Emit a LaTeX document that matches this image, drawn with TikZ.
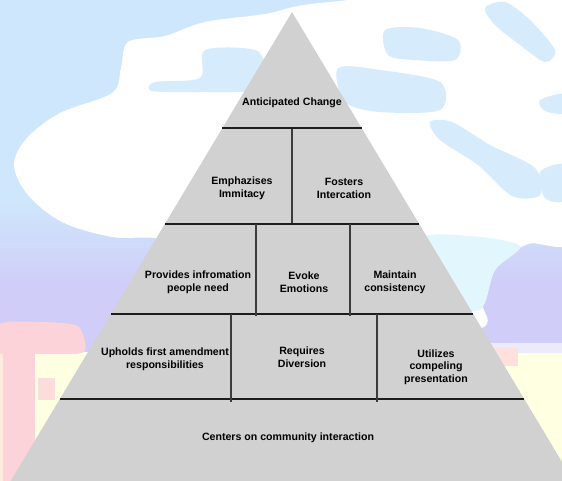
\documentclass[tikz,border=0pt]{standalone}
\usepackage{fontspec}
\setmainfont{Liberation Sans}
\usetikzlibrary{calc}
\definecolor{bgblue}{RGB}{207,231,252}
\definecolor{blot}{RGB}{214,236,252}
\definecolor{cyanlt}{RGB}{226,247,253}
\definecolor{lav}{RGB}{208,205,249}
\definecolor{pinkbg}{RGB}{253,211,218}
\definecolor{yellowbg}{RGB}{255,255,226}
\definecolor{pyr}{RGB}{209,209,209}
\definecolor{hl}{RGB}{28,28,28}
\definecolor{vl}{RGB}{60,60,60}
\begin{document}
\begin{tikzpicture}[x=1pt,y=-1pt,
  lbl/.style={font=\fontsize{10.6}{12.7}\selectfont\bfseries, align=center, inner sep=0pt, text=black},
  hline/.style={draw=hl, line width=1.3pt},
  vline/.style={draw=vl, line width=1.4pt}]
\useasboundingbox (0,0) rectangle (562,481);
\clip (0,0) rectangle (562,481);
% ---------- background ----------
\fill[bgblue] (0,0) rectangle (562,200);
\shade[top color=bgblue, bottom color=lav] (0,200) rectangle (562,285);
\fill[lav] (0,284) rectangle (562,352);
% white cloud
\fill[white] plot[smooth cycle, tension=0.55] coordinates {(128,42) (165,36) (205,22) (265,14) (330,2) (562,-12) (580,120) (575,238) (528,244) (498,266) (482,300) (474,330) (300,330) (185,246) (112,237) (62,222) (28,195) (14,165) (27,138) (60,113) (112,93) (121,68)};
% blue blotches
\fill[blot] plot[smooth cycle, tension=0.5] coordinates {(205,50) (255,50) (266,70) (258,90) (200,92) (152,91) (155,82) (200,78)};
\fill[blot] plot[smooth cycle, tension=0.5] coordinates {(338,68) (380,70) (440,82) (440,110) (380,112) (345,102)};
\fill[blot] plot[smooth cycle, tension=0.5] coordinates {(385,30) (420,28) (458,40) (455,60) (415,60) (388,55)};
\fill[blot] plot[smooth cycle, tension=0.5] coordinates {(485,8) (505,2) (530,20) (555,50) (545,62) (520,45) (495,25)};
\fill[blot] plot[smooth cycle, tension=0.5] coordinates {(430,122) (452,122) (490,145) (535,168) (540,195) (512,196) (478,165) (440,140)};
\fill[blot] plot[smooth cycle, tension=0.5] coordinates {(540,100) (565,94) (565,113) (545,111)};
\fill[blot] plot[smooth cycle, tension=0.5] coordinates {(540,172) (565,165) (565,200) (545,198)};
\fill[cyanlt] plot[smooth cycle, tension=0.5] coordinates {(420,240) (470,236) (520,246) (495,270) (480,310) (440,300)};
% right lower: white band, yellow, pink spot
\fill[white!60!lav] (470,343) rectangle (562,354);
\fill[yellowbg] (470,353) rectangle (562,481);
\fill[pinkbg!70!yellowbg] (488,348) rectangle (518,366);
% left lower: pink T shape and yellow
\fill[pinkbg] plot[smooth cycle, tension=0.4] coordinates {(0,324) (40,322) (78,326) (84,352) (40,356) (0,356)};
\fill[yellowbg!60!pinkbg] (0,354) rectangle (4,481);
\fill[pinkbg] (3,354) rectangle (35,481);
\fill[yellowbg] (35,354) rectangle (120,481);
\fill[pinkbg!80!yellowbg] (38,378) rectangle (55,400);
% ---------- pyramid ----------
\coordinate (apex) at (292,12);
\fill[pyr] (apex) -- (5.2,490) -- (578.8,490) -- cycle;
% levels
\coordinate (l1a) at (222.4,128);  \coordinate (l1b) at (361.6,128);
\coordinate (l2a) at (164.8,224);  \coordinate (l2b) at (419.2,224);
\coordinate (l3a) at (110.8,314);  \coordinate (l3b) at (473.2,314);
\coordinate (l4a) at (59.8,399);   \coordinate (l4b) at (524.2,399);
\draw[hline] (l1a) -- (l1b);
\draw[hline] (l2a) -- (l2b);
\draw[hline] (l3a) -- (l3b);
\draw[hline] (l4a) -- (l4b);
% dividers
\draw[vline] (292,129) -- (292,223);
\draw[vline] (256,224) -- (256,316);
\draw[vline] (350,224) -- (350,316);
\draw[vline] (231,314) -- (231,402);
\draw[vline] (377,314) -- (377,402);
% ---------- labels ----------
\node[lbl] (ac) at (292,102.5) {Anticipated Change};
\node[lbl] (ei) at (242,188.5) {Emphazises\\Immitacy};
\node[lbl] (fi) at (344,188.5) {Fosters\\Intercation};
\node[lbl] (pi) at (198,282.5) {Provides infromation\\people need};
\node[lbl] (ee) at (304,282.5) {Evoke\\Emotions};
\node[lbl] (mc) at (395,282.5) {Maintain\\consistency};
\node[lbl] (uf) at (165,359.5) {Upholds first amendment\\responsibilities};
\node[lbl] (rd) at (302,357.5) {Requires\\Diversion};
\node[lbl] (uc) at (436,367) {Utilizes\\compeling\\presentation};
\node[lbl] (cc) at (288,437.5) {Centers on community interaction};
\end{tikzpicture}
\end{document}
